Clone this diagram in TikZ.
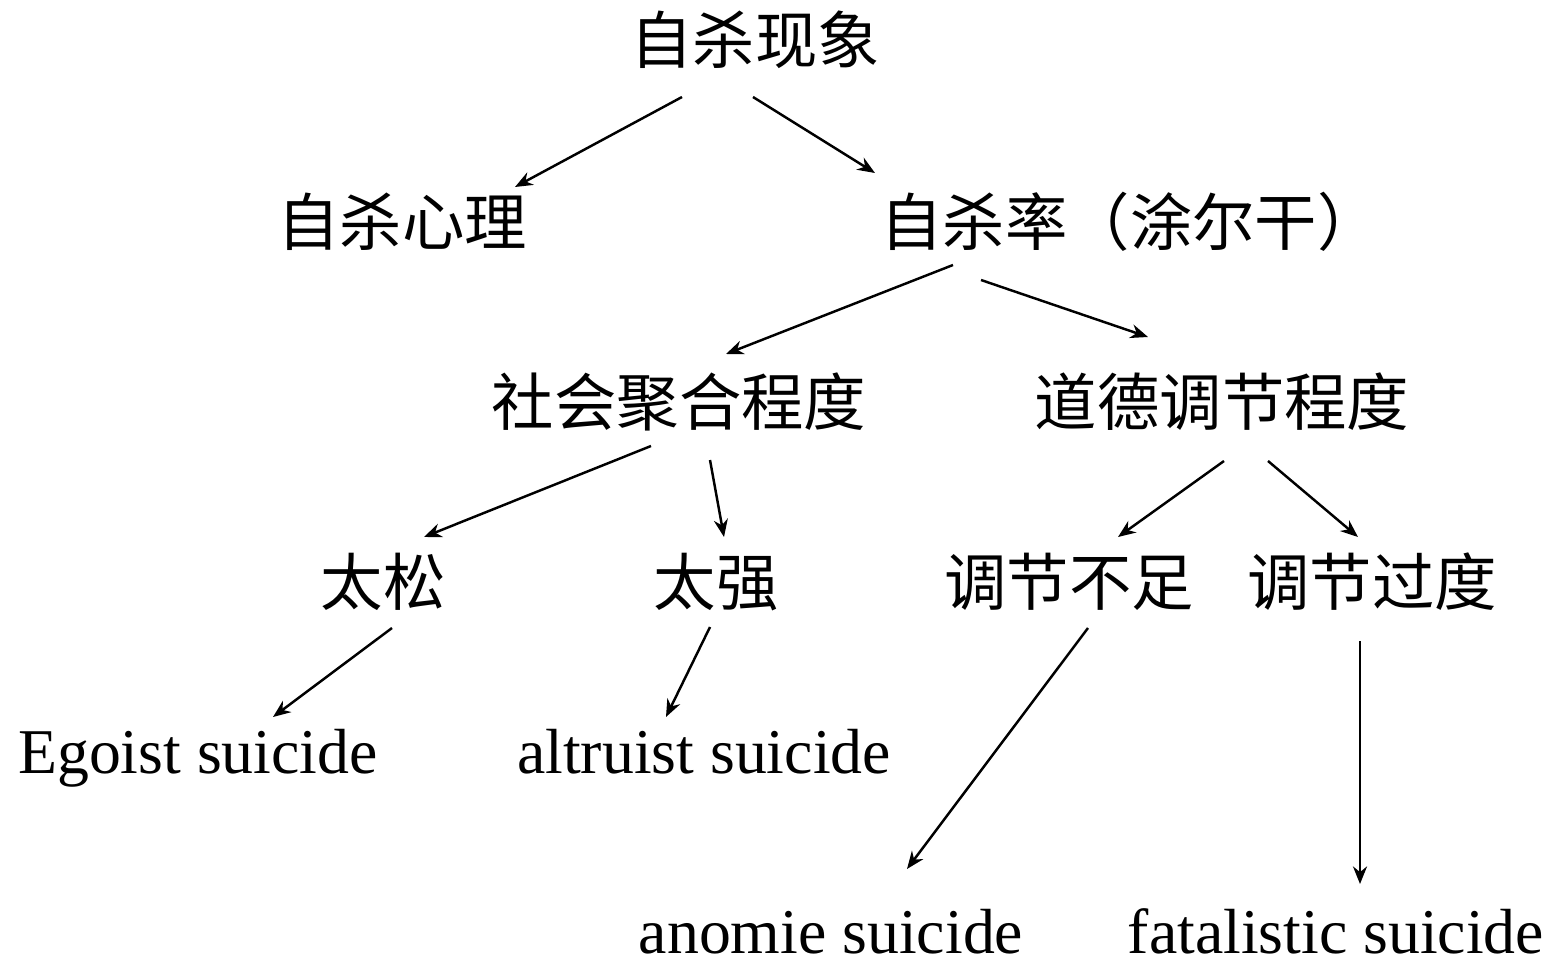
\documentclass[tikz,border=0pt]{standalone}
\usepackage{fontspec}
\setmainfont{Liberation Serif}
\newfontfamily\cjk{Noto Sans CJK SC}
\usetikzlibrary{arrows.meta}

\begin{document}
\begin{tikzpicture}[
    x=0.02cm,
    y=-0.02cm,
    zh/.style={inner sep=0pt, font=\cjk\fontsize{35.5}{40}\selectfont},
    en/.style={inner sep=0pt, anchor=base, text depth=0pt, font=\fontsize{36.3}{42}\selectfont},
    arr/.style={line width=1.4pt, -{Stealth[length=10pt, width=8pt]}}
]
\useasboundingbox (0,0) rectangle (1552,959);

% Levels of the tree
\node[zh] (top)    at (755,40)   {自杀现象};
\node[zh] (psych)  at (402,222)  {自杀心理};
\node[zh] (rate)   at (1130,222) {自杀率（涂尔干）};
\node[zh] (cohes)  at (679,402)  {社会聚合程度};
\node[zh] (moral)  at (1222,402) {道德调节程度};
\node[zh] (loose)  at (383,582)  {太松};
\node[zh] (strong) at (716,582)  {太强};
\node[zh] (under)  at (1069,582) {调节不足};
\node[zh] (over)   at (1372,582) {调节过度};

% Types of suicide
\node[en] (ego)   at (198,773)  {Egoist suicide};
\node[en] (altr)  at (704,773)  {altruist suicide};
\node[en] (anom)  at (831,953)  {anomie suicide};
\node[en] (fatal) at (1336,953) {fatalistic suicide};

% Arrows
\draw[arr] ([shift={(-73,57)}]top.center)   -- ([shift={(113,-35)}]psych.center);
\draw[arr] ([shift={(-2,57)}]top.center)    -- ([shift={(-255,-49)}]rate.center);
\draw[arr] ([shift={(-177,43)}]rate.center) -- ([shift={(47,-48)}]cohes.center);
\draw[arr] ([shift={(-149,58)}]rate.center) -- ([shift={(-74,-65)}]moral.center);
\draw[arr] ([shift={(-28,44)}]cohes.center) -- ([shift={(41,-45)}]loose.center);
\draw[arr] ([shift={(31,58)}]cohes.center)  -- ([shift={(8,-45)}]strong.center);
\draw[arr] ([shift={(2,59)}]moral.center)   -- ([shift={(49,-45)}]under.center);
\draw[arr] ([shift={(46,59)}]moral.center)  -- ([shift={(-14,-45)}]over.center);
\draw[arr] ([shift={(9,46)}]loose.center)   -- ([shift={(75,-56)}]ego.base);
\draw[arr] ([shift={(-6,45)}]strong.center) -- ([shift={(-38,-56)}]altr.base);
\draw[arr] ([shift={(19,46)}]under.center)  -- ([shift={(76,-84)}]anom.base);
\draw[arr] ([shift={(-12,59)}]over.center)  -- ([shift={(24,-69)}]fatal.base);
\end{tikzpicture}
\end{document}
